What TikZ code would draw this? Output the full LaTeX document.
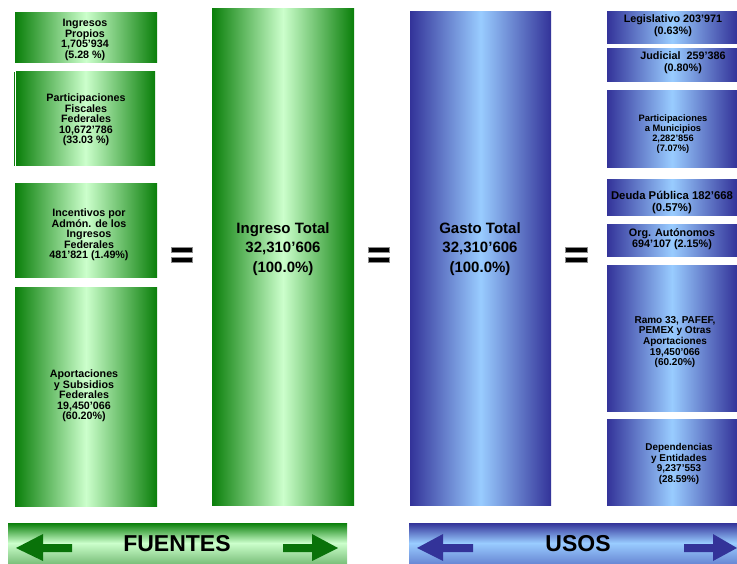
\documentclass[tikz,border=0pt]{standalone}
\usepackage{fontspec}
\setmainfont{Liberation Sans}
\definecolor{gdark}{HTML}{0A7F0A}
\definecolor{glight}{HTML}{CCFFCC}
\definecolor{bdark}{HTML}{333399}
\definecolor{blight}{HTML}{99CCFF}
\definecolor{gbot}{HTML}{7DC27D}
\definecolor{bbot}{HTML}{6A8AD6}
\tikzset{
  boxbase/.style={rectangle, inner sep=0pt, outer sep=0pt, draw=none},
  gbox/.style={boxbase, left color=gdark, right color=gdark, middle color=glight},
  bbox/.style={boxbase, left color=bdark, right color=bdark, middle color=blight},
  lbl/.style={align=center, inner sep=0pt, font=\bfseries\fontsize{10.7}{10.4}\selectfont},
  lblr/.style={align=center, inner sep=0pt, font=\bfseries\fontsize{10}{10.6}\selectfont},
  big/.style={align=center, inner sep=0pt, font=\bfseries\fontsize{15}{19.6}\selectfont},
  ban/.style={align=center, inner sep=0pt, font=\bfseries\fontsize{23}{23}\selectfont},
  eqbar/.style={rectangle, fill=black, draw=black!45, line width=0.6pt, inner sep=0pt, minimum width=21pt, minimum height=5.5pt},
}
\newcommand\mybox[6]{% style, name, x1, y1, x2, y2
  \node[#1, minimum width={#5-#3}, minimum height={#6-#4}] (#2) at ({(#3+#5)/2},{(#4+#6)/2}) {};}
\begin{document}
\begin{tikzpicture}[x=1pt,y=-1pt]
\useasboundingbox (0,0) rectangle (737,564);
% left column (fuentes)
\mybox{gbox}{f1}{15}{13}{157}{63}
\mybox{gbox}{f2}{16}{72}{155}{166}
\node[boxbase, fill=gdark, minimum width=1.2pt, minimum height=94pt] (f2edge) at (14.6,119) {};
\mybox{gbox}{f3}{15}{184}{157}{278}
\mybox{gbox}{f4}{15}{288}{157}{506}
\node[lbl] (tf1) at (85,40) {Ingresos\\Propios\\1,705'934\\(5.28 \%)};
\node[lbl] (tf2) at (86,120) {Participaciones\\Fiscales\\Federales\\10,672'786\\(33.03 \%)};
\node[lbl] (tf3) at (89,235) {Incentivos por\\Admón. de los\\Ingresos\\Federales\\481'821 (1.49\%)};
\node[lbl] (tf4) at (84,396) {Aportaciones\\y Subsidios\\Federales\\19,450'066\\(60.20\%)};
% totals
\mybox{gbox}{it}{212}{9}{354}{505}
\mybox{bbox}{gt}{410}{12}{551}{505}
\node[big] (tit) at (283,249) {Ingreso Total\\32,310'606\\(100.0\%)};
\node[big] (tgt) at (480,249) {Gasto Total\\32,310'606\\(100.0\%)};
% right column (usos)
\mybox{bbox}{u1}{607}{12}{737}{44}
\mybox{bbox}{u2}{607}{49}{737}{82}
\mybox{bbox}{u3}{607}{91}{737}{168}
\mybox{bbox}{u4}{607}{180}{737}{216}
\mybox{bbox}{u5}{607}{225}{737}{257}
\mybox{bbox}{u6}{607}{266}{737}{411}
\mybox{bbox}{u7}{607}{419}{737}{505}
\node[lblr, font=\bfseries\fontsize{10.8}{12}\selectfont] (tu1) at (673,26) {Legislativo 203'971\\(0.63\%)};
\node[lblr, font=\bfseries\fontsize{10.8}{12}\selectfont] (tu2) at (683,63) {Judicial\ \ 259'386\\(0.80\%)};
\node[lblr, font=\bfseries\fontsize{9.3}{10}\selectfont] (tu3) at (673,134) {Participaciones\\a Municipios\\2,282'856\\(7.07\%)};
\node[lblr, font=\bfseries\fontsize{11.3}{12}\selectfont] (tu4) at (672,203) {Deuda Pública 182'668\\(0.57\%)};
\node[lblr, font=\bfseries\fontsize{10.8}{11}\selectfont] (tu5) at (672,239) {Org. Autónomos\\694'107 (2.15\%)};
\node[lblr] (tu6) at (675,342) {Ramo 33, PAFEF,\\PEMEX y Otras\\Aportaciones\\19,450'066\\(60.20\%)};
\node[lblr, font=\bfseries\fontsize{9.9}{10.7}\selectfont] (tu7) at (679,464) {Dependencias\\y Entidades\\9,237'553\\(28.59\%)};
% equal signs
\node[eqbar] (e1a) at (182,250) {};
\node[eqbar] (e1b) at (182,260) {};
\node[eqbar] (e2a) at (378.5,250) {};
\node[eqbar] (e2b) at (378.5,260) {};
\node[eqbar, minimum width=22pt] (e3a) at (576.5,250) {};
\node[eqbar, minimum width=22pt] (e3b) at (576.5,260) {};
% banners
\node[boxbase, top color=gdark, bottom color=gbot, middle color=glight, minimum width=339pt, minimum height=40pt] (bf) at (177.5,543) {};
\node[boxbase, top color=bdark, bottom color=bbot, middle color=blight, minimum width=328pt, minimum height=40pt] (bu) at (573,543) {};
\node[ban] (tbf) at (177,544) {FUENTES};
\node[ban] (tbu) at (578,544) {USOS};
\fill[gdark!90!black] (16,548) -- (43,534) -- (43,544) -- (72,544) -- (72,552) -- (43,552) -- (43,561) -- cycle;
\fill[gdark!90!black] (338,548) -- (312,534) -- (312,544) -- (283,544) -- (283,552) -- (312,552) -- (312,561) -- cycle;
\fill[bdark] (417,548) -- (443,534) -- (443,544) -- (473,544) -- (473,552) -- (443,552) -- (443,561) -- cycle;
\fill[bdark] (737,548) -- (713,534) -- (713,544) -- (684,544) -- (684,552) -- (713,552) -- (713,561) -- cycle;
\end{tikzpicture}
\end{document}
